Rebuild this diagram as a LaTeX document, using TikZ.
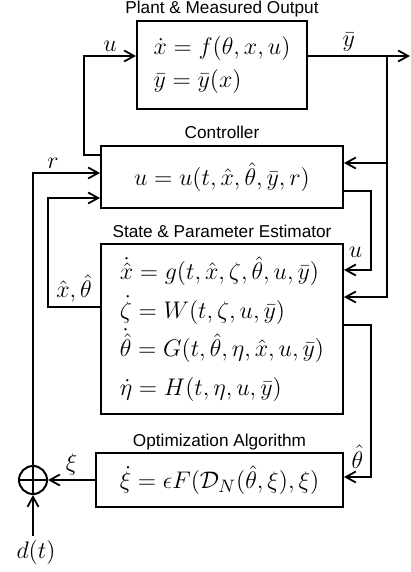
\documentclass[tikz,border=0pt]{standalone}
\usepackage{fontspec}
\newfontfamily\titlefont{Liberation Sans}
\usetikzlibrary{arrows.meta, positioning}

\begin{document}
\begin{tikzpicture}[
  x=0.5pt, y=-0.5pt,
  box/.style={draw, line width=1pt, inner sep=0pt, align=left},
  eqs/.style={font=\fontsize{12.5}{16.5}\selectfont},
  title/.style={font=\titlefont\fontsize{8.6}{10}\selectfont, inner sep=1pt, text height=6.4pt, text depth=1.8pt},
  arrow/.style={-{Straight Barb[length=5pt,width=5.5pt]}, line width=0.9pt},
  lbl/.style={font=\fontsize{12.5}{15}\selectfont, inner sep=2pt}
]
\useasboundingbox (0,0) rectangle (411,572);

% blocks
\node[box, eqs, minimum width=85pt, minimum height=44pt] (plant) at (222,65)
  {$\dot x = f(\theta, x, u)$\\ $\bar y = \bar y(x)$};
\node[box, eqs, minimum width=121pt, minimum height=31pt] (ctrl) at (222,177)
  {$u = u(t, \hat x, \hat\theta, \bar y, r)$};
\node[box, font=\fontsize{12.5}{19.3}\selectfont, minimum width=121pt, minimum height=85pt] (est) at (222,329)
  {$\dot{\hat x} = g(t, \hat x, \zeta, \hat\theta, u, \bar y)$\\
   $\dot\zeta = W(t, \zeta, u, \bar y)$\\
   $\dot{\hat\theta} = G(t, \hat\theta, \eta, \hat x, u, \bar y)$\\
   $\dot\eta = H(t, \eta, u, \bar y)$};
\node[box, eqs, minimum width=123.5pt, minimum height=27pt] (opt) at (219.5,480)
  {$\dot\xi = \epsilon F(\mathcal{D}_N(\hat\theta, \xi), \xi)$};
\node[draw, circle, line width=1pt, minimum size=14pt, inner sep=0pt] (sum) at (33,480) {};
\draw[line width=0.9pt] (sum.north) -- (sum.south) (sum.west) -- (sum.east);
\node[lbl] (dt) at (36,552) {$d(t)$};

% titles
\node[title, above=0pt of plant] {Plant \& Measured Output};
\node[title, above=0pt of ctrl] {Controller};
\node[title, above=0pt of est] {State \& Parameter Estimator};
\node[title, above=0pt of opt] {Optimization Algorithm};

\coordinate (ybr) at (387,56);
\coordinate (yout) at (410,56);

% signals
\draw[arrow] (ctrl.west |- 0,155) -- ++(-16,0) |- node[lbl, pos=0.75, above] {$u$} (plant.west |- 0,56);
\draw[arrow] (plant.east |- 0,56) -- node[lbl, pos=0.4, above] {$\bar y$} (yout);
\draw[arrow] (ybr) |- (ctrl.east |- 0,163);
\draw[arrow] (ybr) |- (est.east |- 0,297);
\draw[arrow] (ctrl.east |- 0,191) -- ++(27,0) |- node[lbl, pos=0.75, above=4pt, xshift=-1pt] {$u$} (est.east |- 0,270);
\draw[arrow] (est.west |- 0,307) -- node[lbl, above] {$\hat x, \hat\theta$} ++(-52,0) |- (ctrl.west |- 0,198);
\draw[arrow] (est.east |- 0,325) -- ++(27,0) |- node[lbl, pos=0.75, above=2pt] {$\hat\theta$} (opt.east |- 0,477);
\draw[arrow] (opt.west) -- node[lbl, above] {$\xi$} (sum.east);
\draw[arrow] (sum.north) |- node[lbl, pos=0.65, above] {$r$} (ctrl.west |- 0,173);
\draw[arrow] (dt.north -| sum.south) -- (sum.south);
\end{tikzpicture}
\end{document}
